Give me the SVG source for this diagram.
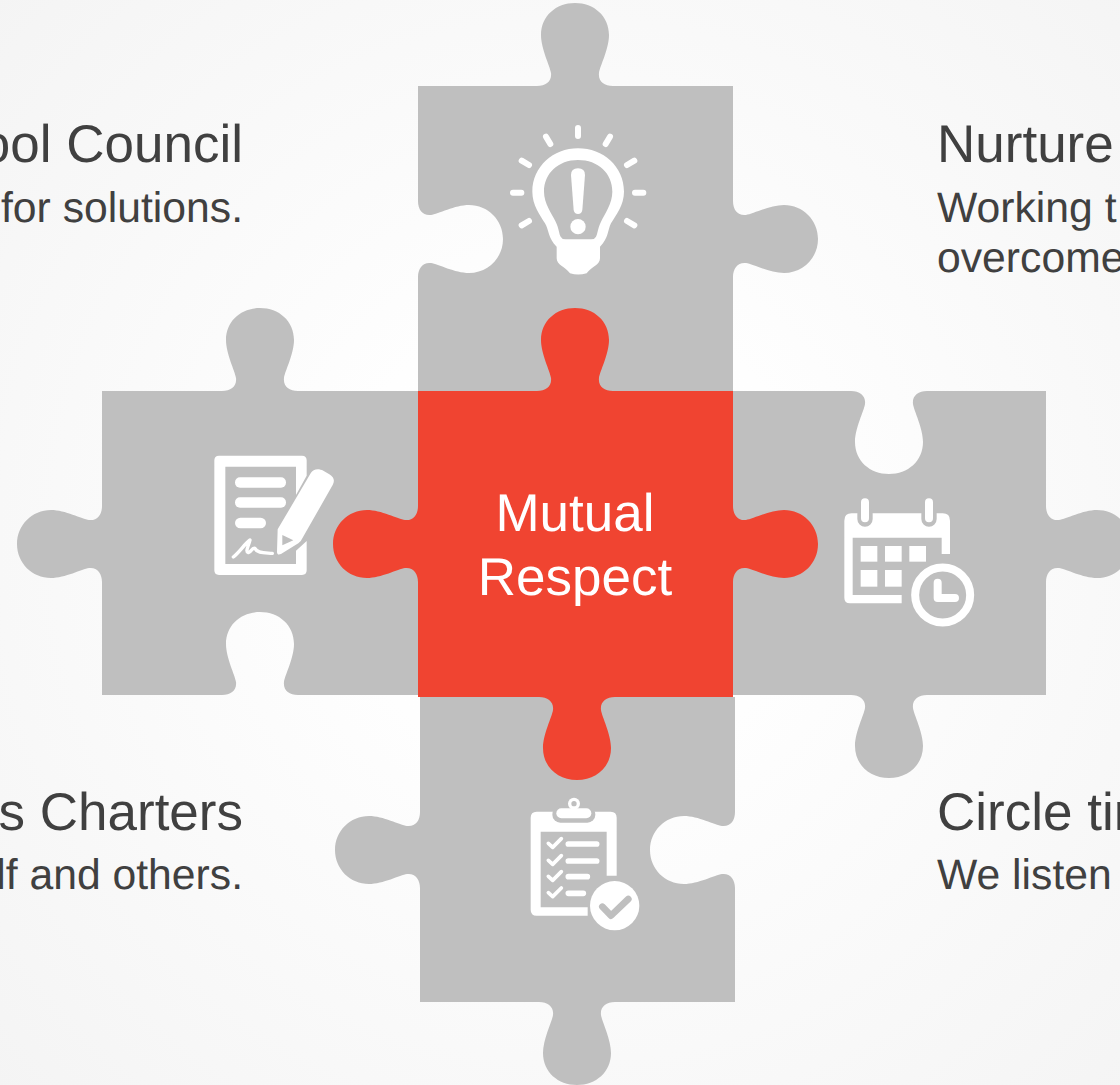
<svg xmlns="http://www.w3.org/2000/svg" width="1120" height="1085" viewBox="0 0 1120 1085">
<style>
text{text-rendering:geometricPrecision}
.piece{fill:#bfbfbf}
.hot{fill:#f04431}
.h{font-family:"Liberation Sans",Arial,sans-serif;font-size:53px;fill:#404040}
.s{font-family:"Liberation Sans",Arial,sans-serif;font-size:42.7px;fill:#404040}
.e{text-anchor:end}
.w{fill:#fff}
.g{fill:#bfbfbf}
.ws{fill:none;stroke:#fff;stroke-linecap:round;stroke-linejoin:round}
.gs{fill:none;stroke:#bfbfbf;stroke-linecap:round;stroke-linejoin:round}
.c{font-family:"Liberation Sans",Arial,sans-serif;font-size:53px;fill:#fff;text-anchor:middle}
</style>
<defs>
<radialGradient id="bg" gradientUnits="userSpaceOnUse" cx="575" cy="540" r="800">
<stop offset="0" stop-color="#ffffff"/><stop offset=".3" stop-color="#fefefe"/><stop offset="1" stop-color="#f4f4f4"/>
</radialGradient>
</defs>
<rect id="background" width="1120" height="1085" fill="url(#bg)"/>

<g id="piece-top">
<path class="piece" d="M418,86 H537 c9,0 15,-5 14,-13 c-1,-7 -10,-24 -10,-38 c0,-19 15,-32 34,-32 c19,0 34,13 34,32 c0,14 -9,31 -10,38 c-1,8 5,13 14,13 H733 V201 c0,9 5,15 13,14 c7,-1 24,-10 38,-10 c19,0 34,15 34,34 c0,19 -15,34 -34,34 c-14,0 -31,-9 -38,-10 c-8,-1 -13,5 -13,14 V391 H418 V277 c0,-9 5,-15 13,-14 c7,1 24,10 38,10 c19,0 34,-15 34,-34 c0,-19 -15,-34 -34,-34 c-14,0 -31,9 -38,10 c-8,1 -13,-5 -13,-14 Z"/>
<g transform="translate(490 110) scale(.33333)">
<path class="ws" stroke-width="18" d="M264,54 V78 M168,80 L181,102 M360,80 L347,102 M95,152 L117,165 M433,152 L411,165 M69,248 H94 M460,248 H435 M95,346 L117,333 M433,346 L411,333"/>
<path class="w" fill-rule="evenodd" d="M127,245 C127,170 190,115 264,115 C340,115 402,170 402,245 C402,285 378,315 363,340 C353,360 356,385 330,410 L330,445 C330,465 305,470 290,490 Q264,497 240,490 C225,470 200,465 200,445 L200,410 C174,385 177,360 165,340 C150,315 127,285 127,245 Z M162,245 C162,190 205,150 264,150 C325,150 367,190 367,245 C367,280 345,310 333,335 C323,355 323,372 318,380 Q314,388 304,388 L226,388 Q216,388 212,380 C207,372 207,355 197,335 C185,310 162,280 162,245 Z"/>
<path class="w" d="M243,195 Q243,175 264,175 Q285,175 285,195 L277,300 Q275,312 264,312 Q253,312 251,300 Z"/>
<circle class="w" cx="264" cy="350" r="23"/>
</g>
</g>

<g id="piece-left">
<path class="piece" d="M102,391 H222 c9,0 15,-5 14,-13 c-1,-7 -10,-24 -10,-38 c0,-19 15,-32 34,-32 c19,0 34,13 34,32 c0,14 -9,31 -10,38 c-1,8 5,13 14,13 H418 V695 H298 c-9,0 -15,-5 -14,-13 c1,-7 10,-24 10,-38 c0,-19 -15,-32 -34,-32 c-19,0 -34,13 -34,32 c0,14 9,31 10,38 c1,8 -5,13 -14,13 H102 V582 c0,-9 -5,-15 -13,-14 c-7,1 -24,10 -38,10 c-19,0 -34,-15 -34,-34 c0,-19 15,-34 34,-34 c14,0 31,9 38,10 c8,1 13,-5 13,-14 Z"/>
<g transform="translate(195 440) scale(.33333)">
<path class="w" d="M72,47 H321 Q335,47 335,61 V107 L303,165 V80 H91 V372 H303 V332 L335,303 V391 Q335,405 321,405 H72 Q58,405 58,391 V61 Q58,47 72,47 Z"/>
<rect class="w" x="120" y="112" width="153" height="31" rx="15"/>
<rect class="w" x="120" y="172" width="153" height="31" rx="15"/>
<rect class="w" x="120" y="233" width="93" height="32" rx="16"/>
<path class="w" d="M347,100 C355,85 372,85 385,92 L403,103 C417,112 420,122 413,135 L322,295 Q318,305 310,310 L258,342 Q246,347 246,335 L248,268 Z"/>
<path class="g" d="M262,285 L295,301 L262,316 Z"/>
<path class="ws" stroke-width="10" d="M115,351 C135,335 150,310 165,300 C160,320 150,335 160,338 C170,335 170,322 180,325 C185,340 210,338 232,340"/>
</g>
</g>

<g id="piece-right">
<path class="piece" d="M733,391 H851 c9,0 15,5 14,13 c-1,7 -10,24 -10,38 c0,19 15,32 34,32 c19,0 34,-13 34,-32 c0,-14 -9,-31 -10,-38 c-1,-8 5,-13 14,-13 H1046 V506 c0,9 5,15 13,14 c7,-1 24,-10 38,-10 c19,0 34,15 34,34 c0,19 -15,34 -34,34 c-14,0 -31,-9 -38,-10 c-8,-1 -13,5 -13,14 V695 H927 c-9,0 -15,5 -14,13 c1,7 10,24 10,38 c0,19 -15,32 -34,32 c-19,0 -34,-13 -34,-32 c0,-14 9,-31 10,-38 c1,-8 -5,-13 -14,-13 H733 Z"/>
<g transform="translate(830 485) scale(.33333)">
<path class="w" d="M65,85 H338 Q360,85 360,107 V207 H335 V158 H68 V330 H215 V355 H60 Q43,355 43,338 V107 Q43,85 65,85 Z"/>
<path class="gs" stroke-width="46" d="M105,85 V102 M297,85 V102"/>
<path class="ws" stroke-width="24" d="M105,52 V100 M297,52 V100"/>
<g class="w">
<rect x="92" y="183" width="50" height="47"/><rect x="165" y="183" width="50" height="47"/><rect x="238" y="183" width="50" height="47"/>
<rect x="92" y="255" width="50" height="50"/><rect x="165" y="255" width="50" height="50"/>
</g>
<circle cx="338" cy="330" r="82.500" fill="#bfbfbf" stroke="#fff" stroke-width="24"/>
<path class="ws" stroke-width="24" d="M323,293 V339 H375"/>
</g>
</g>

<g id="piece-bottom">
<path class="piece" d="M420,697 H735 V812 c0,9 -5,15 -13,14 c-7,-1 -24,-10 -38,-10 c-19,0 -34,15 -34,34 c0,19 15,34 34,34 c14,0 31,-9 38,-10 c8,-1 13,5 13,14 V1002 H615 c-9,0 -15,5 -14,13 c1,7 10,24 10,38 c0,19 -15,32 -34,32 c-19,0 -34,-13 -34,-32 c0,-14 9,-31 10,-38 c1,-8 -5,-13 -14,-13 H420 V888 c0,-9 -5,-15 -13,-14 c-7,1 -24,10 -38,10 c-19,0 -34,-15 -34,-34 c0,-19 15,-34 34,-34 c14,0 31,9 38,10 c8,1 13,-5 13,-14 Z"/>
<g transform="translate(515 785) scale(.33333)">
<path class="w" d="M65,80 H287 Q305,80 305,98 V272 H275 V140 H77 V367 H218 V392 H65 Q47,392 47,374 V98 Q47,80 65,80 Z"/>
<rect class="g" x="112" y="65" width="129" height="48" rx="24"/>
<rect class="w" x="124" y="70" width="105" height="30" rx="15"/>
<circle class="w" cx="177" cy="56" r="18"/>
<circle class="g" cx="177" cy="56" r="8"/>
<path class="ws" stroke-width="11" d="M100,175 L113,187 L139,161 M100,226 L113,238 L139,212 M100,274 L113,286 L139,260 M100,323 L113,335 L139,309"/>
<path class="ws" stroke-width="17" d="M160,177 H245 M160,228 H245 M160,275 H217 M160,325 H205"/>
<circle class="w" cx="299" cy="362" r="74"/>
<path class="gs" stroke-width="20" d="M262,365 L288,392 L340,342"/>
</g>
</g>

<g id="piece-center">
<path class="hot" d="M418,391 H537 c9,0 15,-5 14,-13 c-1,-7 -10,-24 -10,-38 c0,-19 15,-32 34,-32 c19,0 34,13 34,32 c0,14 -9,31 -10,38 c-1,8 5,13 14,13 H733 V506 c0,9 5,15 13,14 c7,-1 24,-10 38,-10 c19,0 34,15 34,34 c0,19 -15,34 -34,34 c-14,0 -31,-9 -38,-10 c-8,-1 -13,5 -13,14 V697 H615 c-9,0 -15,5 -14,13 c1,7 10,24 10,38 c0,19 -15,32 -34,32 c-19,0 -34,-13 -34,-32 c0,-14 9,-31 10,-38 c1,-8 -5,-13 -14,-13 H418 V582 c0,-9 -5,-15 -13,-14 c-7,1 -24,10 -38,10 c-19,0 -34,-15 -34,-34 c0,-19 15,-34 34,-34 c14,0 31,9 38,10 c8,1 13,-5 13,-14 Z"/>
<text class="c" x="575" y="531">Mutual</text>
<text class="c" x="575" y="595">Respect</text>
</g>

<g id="label-top-left">
<text class="h e" x="243" y="162">ool Council</text>
<text class="s e" x="243" y="222">for solutions.</text>
</g>
<g id="label-top-right">
<text class="h" x="937" y="162">Nurture</text>
<text class="s" x="937" y="222">Working t</text>
<text class="s" x="937" y="272">overcome</text>
</g>
<g id="label-bottom-left">
<text class="h e" x="243" y="830">s Charters</text>
<text class="s e" x="243" y="889">lf and others.</text>
</g>
<g id="label-bottom-right">
<text class="h" x="937" y="830">Circle tim</text>
<text class="s" x="937" y="889">We listen</text>
</g>
</svg>
